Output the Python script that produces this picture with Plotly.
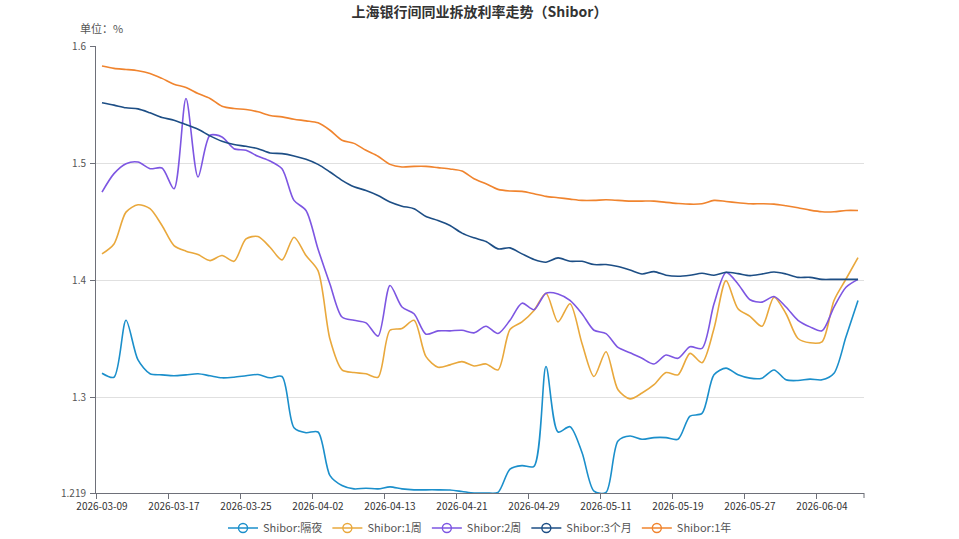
import plotly.graph_objects as go

dates = ["2026-03-09","2026-03-10","2026-03-11","2026-03-12","2026-03-13","2026-03-16","2026-03-17","2026-03-18",
         "2026-03-19","2026-03-20","2026-03-23","2026-03-24","2026-03-25","2026-03-26","2026-03-27","2026-03-30",
         "2026-03-31","2026-04-01","2026-04-02","2026-04-03","2026-04-07","2026-04-08","2026-04-09","2026-04-10",
         "2026-04-13","2026-04-14","2026-04-15","2026-04-16","2026-04-17","2026-04-20","2026-04-21","2026-04-22",
         "2026-04-23","2026-04-24","2026-04-27","2026-04-28","2026-04-29","2026-04-30","2026-05-06","2026-05-07",
         "2026-05-08","2026-05-09","2026-05-11","2026-05-12","2026-05-13","2026-05-14","2026-05-15","2026-05-18",
         "2026-05-19","2026-05-20","2026-05-21","2026-05-22","2026-05-25","2026-05-26","2026-05-27","2026-05-28",
         "2026-05-29","2026-06-01","2026-06-02","2026-06-03","2026-06-04","2026-06-05","2026-06-08","2026-06-09"]

overnight = [1.3211,1.3177,1.3662,1.3324,1.3206,1.3197,1.3189,1.3197,1.3206,1.3189,
             1.3172,1.3177,1.3189,1.3200,1.3172,1.3183,1.2746,1.2704,1.2710,1.2338,
             1.2254,1.2225,1.2231,1.2225,1.2242,1.2225,1.2217,1.2217,1.2217,1.2215,
             1.2203,1.2190,1.2190,1.2195,1.2394,1.2423,1.2417,1.3268,1.2710,1.2755,
             1.2535,1.2205,1.2195,1.2634,1.2676,1.2648,1.2662,1.2662,1.2648,1.2845,
             1.2868,1.3197,1.3254,1.3197,1.3169,1.3169,1.3239,1.3155,1.3149,1.3161,
             1.3155,1.3211,1.3521,1.3831]

week1 = [1.4228,1.4313,1.4584,1.4647,1.4613,1.4470,1.4299,1.4251,1.4222,1.4171,
         1.4214,1.4165,1.4356,1.4376,1.4285,1.4177,1.4370,1.4214,1.4085,1.3500,
         1.3240,1.3217,1.3206,1.3177,1.3577,1.3592,1.3662,1.3352,1.3262,1.3282,
         1.3310,1.3273,1.3290,1.3239,1.3583,1.3648,1.3746,1.3893,1.3648,1.3803,
         1.3465,1.3183,1.3394,1.3070,1.2992,1.3042,1.3113,1.3217,1.3197,1.3380,
         1.3301,1.3592,1.4000,1.3761,1.3696,1.3611,1.3859,1.3718,1.3507,1.3470,
         1.3479,1.3831,1.4014,1.4197]

week2 = [1.4755,1.4912,1.4997,1.5011,1.4954,1.4960,1.4783,1.5553,1.4883,1.5239,
         1.5225,1.5125,1.5111,1.5060,1.5020,1.4954,1.4684,1.4598,1.4270,1.3970,
         1.3690,1.3662,1.3640,1.3527,1.3958,1.3775,1.3718,1.3544,1.3572,1.3572,
         1.3577,1.3555,1.3611,1.3549,1.3662,1.3808,1.3752,1.3893,1.3887,1.3831,
         1.3718,1.3577,1.3549,1.3431,1.3386,1.3338,1.3290,1.3366,1.3338,1.3437,
         1.3423,1.3803,1.4070,1.3972,1.3837,1.3817,1.3865,1.3775,1.3662,1.3606,
         1.3572,1.3775,1.3944,1.4011]

month3 = [1.5516,1.5496,1.5473,1.5464,1.5430,1.5390,1.5368,1.5330,1.5290,1.5234,
          1.5188,1.5160,1.5145,1.5125,1.5088,1.5083,1.5063,1.5034,1.4991,1.4926,
          1.4855,1.4800,1.4769,1.4726,1.4670,1.4635,1.4613,1.4547,1.4513,1.4470,
          1.4405,1.4365,1.4333,1.4271,1.4279,1.4228,1.4180,1.4157,1.4194,1.4165,
          1.4165,1.4137,1.4137,1.4120,1.4091,1.4057,1.4077,1.4046,1.4037,1.4046,
          1.4063,1.4046,1.4071,1.4060,1.4043,1.4057,1.4074,1.4057,1.4028,1.4028,
          1.4011,1.4011,1.4011,1.4011]

year1 = [1.5829,1.5809,1.5800,1.5789,1.5766,1.5724,1.5675,1.5647,1.5595,1.5553,
         1.5487,1.5467,1.5459,1.5439,1.5407,1.5396,1.5376,1.5362,1.5345,1.5282,
         1.5197,1.5170,1.5111,1.5060,1.4991,1.4969,1.4974,1.4974,1.4963,1.4952,
         1.4934,1.4869,1.4826,1.4778,1.4764,1.4761,1.4741,1.4718,1.4707,1.4695,
         1.4684,1.4684,1.4689,1.4684,1.4678,1.4678,1.4678,1.4667,1.4658,1.4652,
         1.4655,1.4684,1.4675,1.4664,1.4655,1.4655,1.4652,1.4638,1.4621,1.4601,
         1.4587,1.4587,1.4598,1.4598]

series_names = ["Shibor:隔夜", "Shibor:1周", "Shibor:2周", "Shibor:3个月", "Shibor:1年"]
series_values = [overnight, week1, week2, month3, year1]
colors = ["#1b8fcb", "#e9a83c", "#7d56e2", "#1d4e85", "#f0842e"]

y_tickvals = [1.219, 1.3, 1.4, 1.5, 1.6]
y_ticktext = ["1.219", "1.3", "1.4", "1.5", "1.6"]

FONT = "Microsoft YaHei, Noto Sans CJK SC, sans-serif"

fig = go.Figure()
for name, vals, col in zip(series_names, series_values, colors):
    fig.add_trace(go.Scatter(x=dates, y=vals, mode="lines", name=name,
                             line=dict(color=col, width=1.6, shape="spline", smoothing=0.8),
                             showlegend=False, legendgroup=name, cliponaxis=True))
for name, col in zip(series_names, colors):
    fig.add_trace(go.Scatter(x=[None], y=[None], mode="lines+markers", name=name,
                             line=dict(color=col, width=1.6),
                             marker=dict(symbol="circle-open", size=9, color=col, line=dict(width=1.4)),
                             showlegend=True, legendgroup=name))

fig.update_layout(
    width=959, height=539,
    margin=dict(l=96, r=95, t=46, b=46, autoexpand=False),
    paper_bgcolor="white", plot_bgcolor="white",
    font=dict(family=FONT, color="#333", size=11),
    title=dict(text="<b>上海银行间同业拆放利率走势（Shibor）</b>", x=0.5, xanchor="center",
               y=1 - 12 / 539, yanchor="middle", yref="container",
               font=dict(size=14, color="#333", family=FONT)),
    legend=dict(orientation="h", x=0.5, xanchor="center", yref="container", y=11 / 539, yanchor="middle",
                font=dict(size=11, color="#555"), itemwidth=30, traceorder="normal"),
    xaxis=dict(type="category", range=[-0.5, len(dates) - 0.5], tickmode="linear", tick0=0, dtick=6,
               tickson="boundaries", ticks="outside", ticklen=5, tickcolor="#6e7079",
               showline=True, linecolor="#6e7079", linewidth=1, showgrid=False,
               tickfont=dict(size=10, color="#333"), tickangle=0, automargin=False,
               ticklabelstandoff=4),
    yaxis=dict(range=[1.219, 1.6], tickmode="array", tickvals=y_tickvals, ticktext=y_ticktext,
               ticks="outside", ticklen=5, tickcolor="#6e7079",
               showline=True, linecolor="#6e7079", linewidth=1,
               showgrid=True, gridcolor="#e0e0e0", gridwidth=1, zeroline=False,
               tickfont=dict(size=10, color="#555"), automargin=False, ticklabelstandoff=2),
    annotations=[dict(text="单位：%", xref="paper", yref="paper", x=-0.0234, y=(493 - 28) / 447,
                      xanchor="left", yanchor="middle", showarrow=False,
                      font=dict(size=11, color="#555", family=FONT))],
    shapes=[dict(type="line", xref="paper", yref="paper", x0=1, x1=1, ysizemode="pixel", yanchor=0,
                 y0=0, y1=-5, line=dict(color="#6e7079", width=1))],
)

fig.write_html("out.html")
